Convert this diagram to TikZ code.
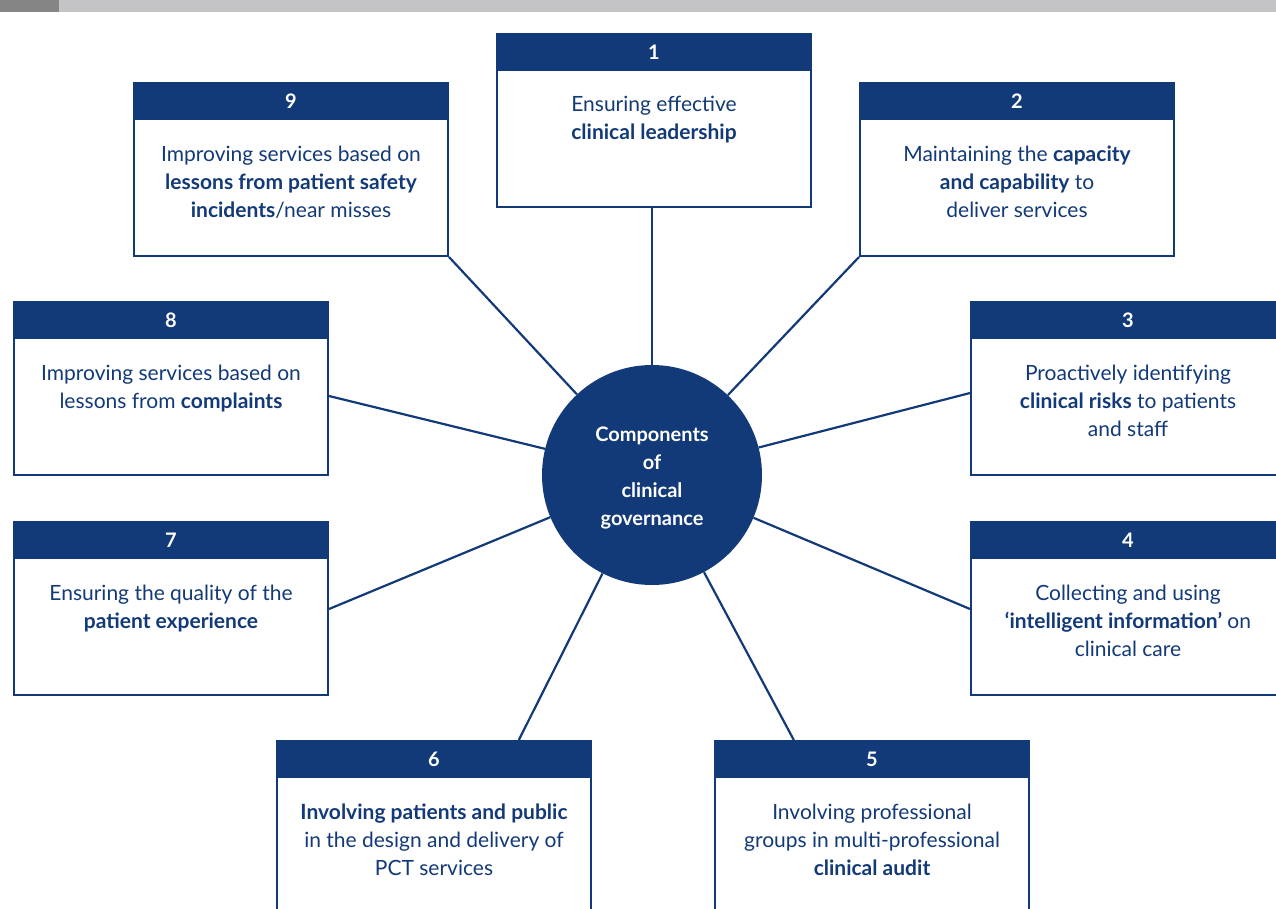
\documentclass[tikz,border=0pt]{standalone}
\usepackage{fontspec}
\setmainfont{Lato}
\usetikzlibrary{calc}
\definecolor{navy}{HTML}{133A78}
\definecolor{darkbar}{HTML}{858585}
\definecolor{lightbar}{HTML}{C4C4C6}
\tikzset{
  boxbody/.style={draw=navy, line width=2pt, fill=white, minimum width=314pt, minimum height=172pt, inner sep=0pt},
  hdr/.style={fill=navy, text=white, minimum width=316pt, minimum height=38pt, inner sep=0pt, anchor=north, font=\fontsize{20}{24}\selectfont\bfseries},
  txt/.style={text=navy, align=center, anchor=north, inner sep=0pt, font=\fontsize{21}{28}\selectfont},
  hub/.style={circle, fill=navy, minimum size=220pt, inner sep=0pt},
  hubtext/.style={text=white, align=center, inner sep=0pt, font=\fontsize{20}{28}\selectfont\bfseries},
  link/.style={draw=navy, line width=2.2pt}
}
\begin{document}
\begin{tikzpicture}[x=1pt,y=-1pt]
\useasboundingbox (0,0) rectangle (1276,908);
\clip (0,0) rectangle (1276,908);
\fill[lightbar] (0,0) rectangle (1276,12);
\fill[darkbar] (0,0) rectangle (59,12);

\node[hub] (c) at (652,475) {};
\node[hubtext] (ct) at (652,478) {Components\\of\\clinical\\governance};

\node[boxbody] (b1) at (654,121) {};
\node[boxbody] (b2) at (1017,170) {};
\node[boxbody] (b3) at (1128,389) {};
\node[boxbody] (b4) at (1128,609) {};
\node[boxbody] (b5) at (872,828) {};
\node[boxbody] (b6) at (434,828) {};
\node[boxbody] (b7) at (171,609) {};
\node[boxbody] (b8) at (171,389) {};
\node[boxbody] (b9) at (291,170) {};

\foreach \i in {1,...,9}{
  \node[hdr] (h\i) at ([yshift=1pt]b\i.north) {\raisebox{-2pt}{\i}};
}

\node[txt] (t1) at ([yshift=-25pt]h1.south) {Ensuring effective\\\textbf{clinical leadership}};
\node[txt] (t2) at ([yshift=-25pt]h2.south) {Maintaining the \textbf{capacity}\\\textbf{and capability} to\\deliver services};
\node[txt] (t3) at ([yshift=-25pt]h3.south) {Proactively identifying\\\textbf{clinical risks} to patients\\and staff};
\node[txt] (t4) at ([yshift=-25pt]h4.south) {Collecting and using\\\textbf{`intelligent information'} on\\clinical care};
\node[txt] (t5) at ([yshift=-25pt]h5.south) {Involving professional\\groups in multi-professional\\\textbf{clinical audit}};
\node[txt] (t6) at ([yshift=-25pt]h6.south) {\textbf{Involving patients and public}\\in the design and delivery of\\PCT services};
\node[txt] (t7) at ([yshift=-25pt]h7.south) {Ensuring the quality of the\\\textbf{patient experience}};
\node[txt] (t8) at ([yshift=-25pt]h8.south) {Improving services based on\\lessons from \textbf{complaints}};
\node[txt] (t9) at ([yshift=-25pt]h9.south) {Improving services based on\\\textbf{lessons from patient safety}\\\textbf{incidents}/near misses};

\draw[link] (c.north) -- (c |- b1.south);
\draw[link] (c) -- (b2.south west);
\draw[link] (c) -- ([yshift=-4pt]b3.west);
\draw[link] (c) -- (b4.west);
\draw[link] (c) -- ([xshift=80pt]h5.north west);
\draw[link] (c) -- ([xshift=243pt]h6.north west);
\draw[link] (c) -- (b7.east);
\draw[link] (c) -- ([yshift=-7pt]b8.east);
\draw[link] (c) -- (b9.south east);
\end{tikzpicture}
\end{document}
